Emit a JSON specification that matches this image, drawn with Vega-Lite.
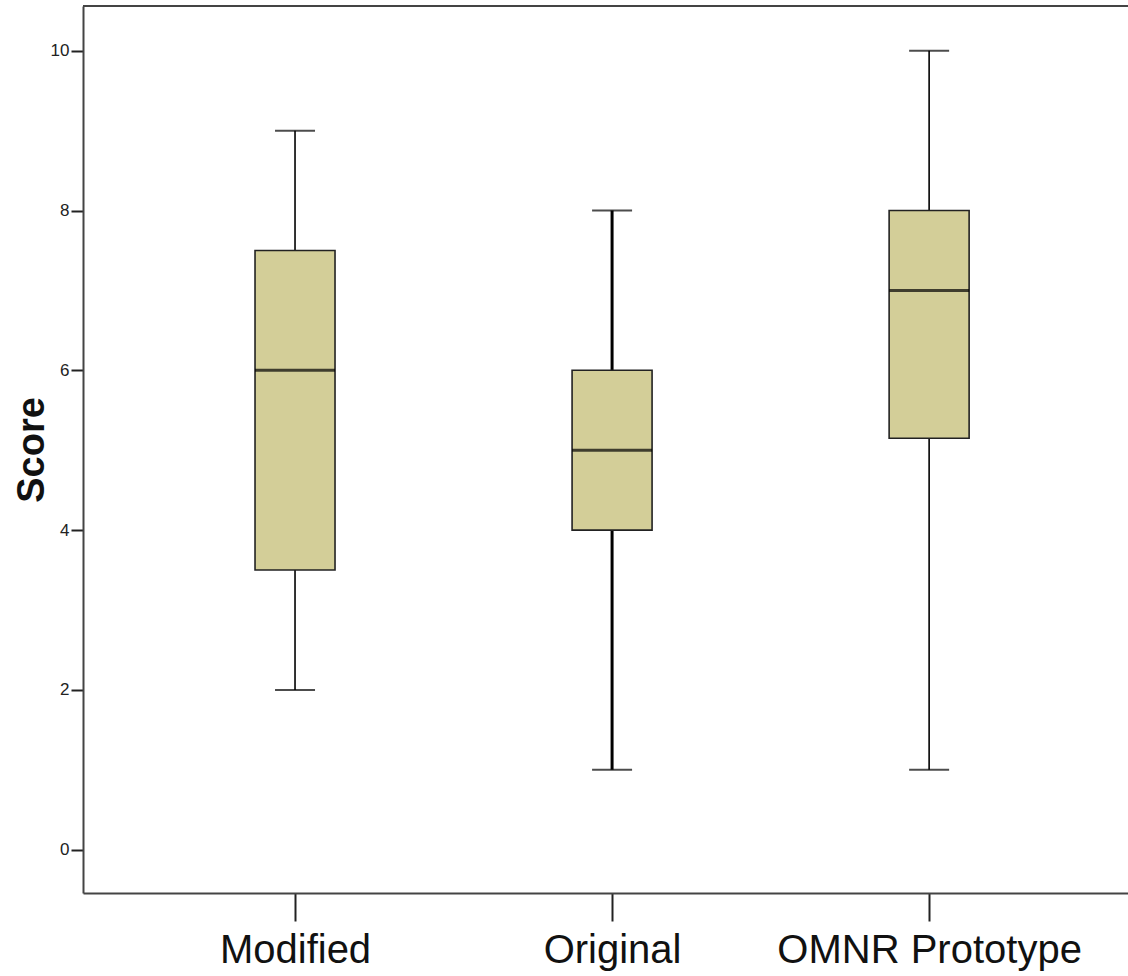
{
  "$schema": "https://vega.github.io/schema/vega-lite/v6.json",
  "width": 1045,
  "height": 887,
  "autosize": {"type": "none"},
  "padding": {"left": 83, "top": 6, "right": 0, "bottom": 83},
  "background": "white",
  "config": {
    "view": {"stroke": null},
    "font": "Liberation Sans",
    "axis": {"grid": false, "domainColor": "#444444", "domainWidth": 2, "tickColor": "#222222", "labelColor": "#222222", "titleColor": "#111111"}
  },
  "data": {
    "values": [
      {"group": "Modified", "min": 2, "q1": 3.5, "median": 6, "q3": 7.5, "max": 9},
      {"group": "Original", "min": 1, "q1": 4, "median": 5, "q3": 6, "max": 8},
      {"group": "OMNR Prototype", "min": 1, "q1": 5.15, "median": 7, "q3": 8, "max": 10}
    ]
  },
  "layer": [
    {
      "mark": {"type": "rule", "color": "black"},
      "encoding": {
        "x": {
          "field": "group", "type": "nominal", "sort": null,
          "scale": {"type": "point", "padding": 0.648, "align": 0.516},
          "axis": {"title": null, "labelAngle": 0, "labelFontSize": 40, "labelPadding": 9, "labelLimit": 0, "tickSize": 28, "tickWidth": 2, "labelColor": "#111111"}
        },
        "y": {"field": "min", "type": "quantitative", "scale": {"domain": [-0.542, 10.56], "nice": false, "zero": false},
          "axis": {"title": "Score", "titleFontSize": 38, "titleFontWeight": "bold", "titlePadding": -1, "values": [0, 2, 4, 6, 8, 10], "format": "d", "labelFontSize": 17, "tickSize": 12, "tickWidth": 2, "labelPadding": 2}},
        "y2": {"field": "max"},
        "strokeWidth": {"condition": {"test": "datum.group === 'Original'", "value": 3}, "value": 1.6}
      }
    },
    {
      "mark": {"type": "tick", "color": "black", "size": 40, "thickness": 2},
      "encoding": {"x": {"field": "group", "type": "nominal", "sort": null}, "y": {"field": "min", "type": "quantitative"}}
    },
    {
      "mark": {"type": "tick", "color": "black", "size": 40, "thickness": 2},
      "encoding": {"x": {"field": "group", "type": "nominal", "sort": null}, "y": {"field": "max", "type": "quantitative"}}
    },
    {
      "mark": {"type": "bar", "size": 80, "fill": "#d3ce98", "stroke": "#222222", "strokeWidth": 1.6},
      "encoding": {"x": {"field": "group", "type": "nominal", "sort": null}, "y": {"field": "q1", "type": "quantitative"}, "y2": {"field": "q3"}}
    },
    {
      "mark": {"type": "tick", "color": "black", "size": 80, "thickness": 3},
      "encoding": {"x": {"field": "group", "type": "nominal", "sort": null}, "y": {"field": "median", "type": "quantitative"}}
    },
    {
      "mark": {"type": "rule", "color": "#444444", "strokeWidth": 2},
      "encoding": {"y": {"datum": 10.56, "type": "quantitative"}}
    }
  ]
}
